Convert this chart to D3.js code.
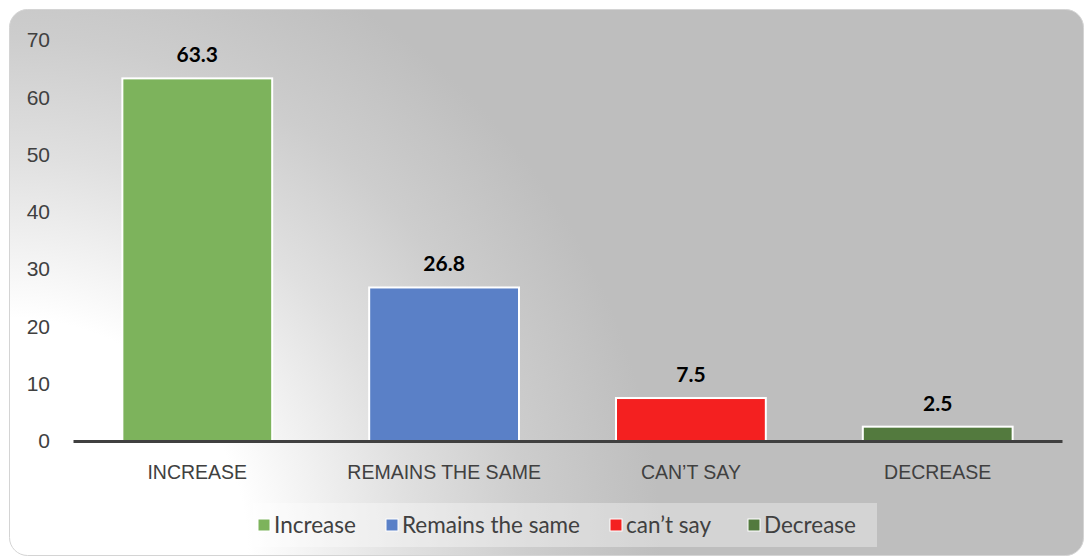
<!DOCTYPE html>
<html>
<head>
<meta charset="utf-8">
<script src="https://cdn.jsdelivr.net/npm/d3@7"></script>
<style>
  html, body { margin: 0; padding: 0; background: #ffffff; }
  svg { display: block; font-family: Lato, "Open Sans", sans-serif; }
</style>
</head>
<body>
<svg id="chart" width="1086" height="558"></svg>
<script>
// Survey responses (percent)
const categories = ["INCREASE", "REMAINS THE SAME", "CAN\u2019T SAY", "DECREASE"];
const legendLabels = ["Increase", "Remains the same", "can\u2019t say", "Decrease"];
const values = [63.3, 26.8, 7.5, 2.5];
const colors = ["#7db35c", "#5a80c7", "#f42020", "#537a3e"];
const yTicks = [0, 10, 20, 30, 40, 50, 60, 70];

const svg = d3.select("#chart");
const W = 1086, H = 558;

// Chart-area background: radial gradient, white at lower-left fading to grey
const defs = svg.append("defs");
const grad = defs.append("radialGradient")
  .attr("id", "bg")
  .attr("gradientUnits", "userSpaceOnUse")
  .attr("cx", 10).attr("cy", 556).attr("r", 700)
  .attr("fx", 10).attr("fy", 556);
[[0, "#ffffff"], [0.34, "#ffffff"], [0.57, "#e0e0e0"], [0.74, "#cdcdcd"],
 [0.93, "#bebebe"], [1, "#bebebe"]].forEach(([o, c]) =>
  grad.append("stop").attr("offset", o).attr("stop-color", c));

svg.append("rect")
  .attr("x", 9.5).attr("y", 9.5)
  .attr("width", 1074).attr("height", 546)
  .attr("rx", 18).attr("ry", 18)
  .attr("fill", "url(#bg)")
  .attr("stroke", "#d4d4d4").attr("stroke-width", 1);

const margin = { left: 73, right: 24, top: 40, bottom: 117 };
const plotW = W - margin.left - margin.right;
const plotH = H - margin.top - margin.bottom; // 0 at y=441

const x = d3.scaleBand()
  .domain(categories)
  .range([margin.left, margin.left + plotW])
  .paddingInner(0.393)
  .paddingOuter(0.2);

const y = d3.scaleLinear()
  .domain([0, 70])
  .range([margin.top + plotH, margin.top]);

// Y axis (labels only)
const yAxis = svg.append("g")
  .attr("transform", `translate(${margin.left},0)`)
  .call(d3.axisLeft(y).tickValues(yTicks).tickSize(0).tickPadding(23));
yAxis.select(".domain").remove();
yAxis.selectAll("text")
  .attr("fill", "#404040")
  .style("font-size", "21px");

// Bars
svg.append("g").selectAll("rect")
  .data(values)
  .join("rect")
  .attr("x", (d, i) => x(categories[i]))
  .attr("y", d => y(d))
  .attr("width", x.bandwidth())
  .attr("height", d => y(0) - y(d))
  .attr("fill", (d, i) => colors[i])
  .attr("stroke", "#ffffff")
  .attr("stroke-width", 2);

// Value labels
svg.append("g").selectAll("text")
  .data(values)
  .join("text")
  .attr("x", (d, i) => x(categories[i]) + x.bandwidth() / 2)
  .attr("y", d => y(d) - 16)
  .attr("text-anchor", "middle")
  .attr("fill", "#000000")
  .style("font-size", "21px")
  .style("font-weight", "bold")
  .text(d => d.toFixed(1));

// X axis
const xAxis = svg.append("g")
  .attr("transform", `translate(0,${y(0)})`)
  .call(d3.axisBottom(x).tickSize(0).tickPadding(24));
xAxis.select(".domain")
  .attr("stroke", "#404040")
  .attr("stroke-width", 3);
xAxis.selectAll("text")
  .attr("fill", "#404040")
  .style("font-size", "19.5px");

// Legend
const legendG = svg.append("g");
legendG.append("rect")
  .attr("x", 253).attr("y", 503)
  .attr("width", 624).attr("height", 44)
  .attr("fill", "#ffffff").attr("fill-opacity", 0.35);

const legendX = [258, 386, 610, 748];
const items = legendG.selectAll("g.item")
  .data(legendLabels)
  .join("g")
  .attr("class", "item")
  .attr("transform", (d, i) => `translate(${legendX[i]},525)`);
items.append("rect")
  .attr("x", 0).attr("y", -6)
  .attr("width", 12).attr("height", 12)
  .attr("fill", (d, i) => colors[i])
  .attr("stroke", "#ffffff").attr("stroke-width", 1);
items.append("text")
  .attr("x", 16).attr("y", 0)
  .attr("dy", "0.35em")
  .attr("fill", "#404040")
  .style("font-size", "22.5px")
  .text(d => d);
</script>
</body>
</html>
